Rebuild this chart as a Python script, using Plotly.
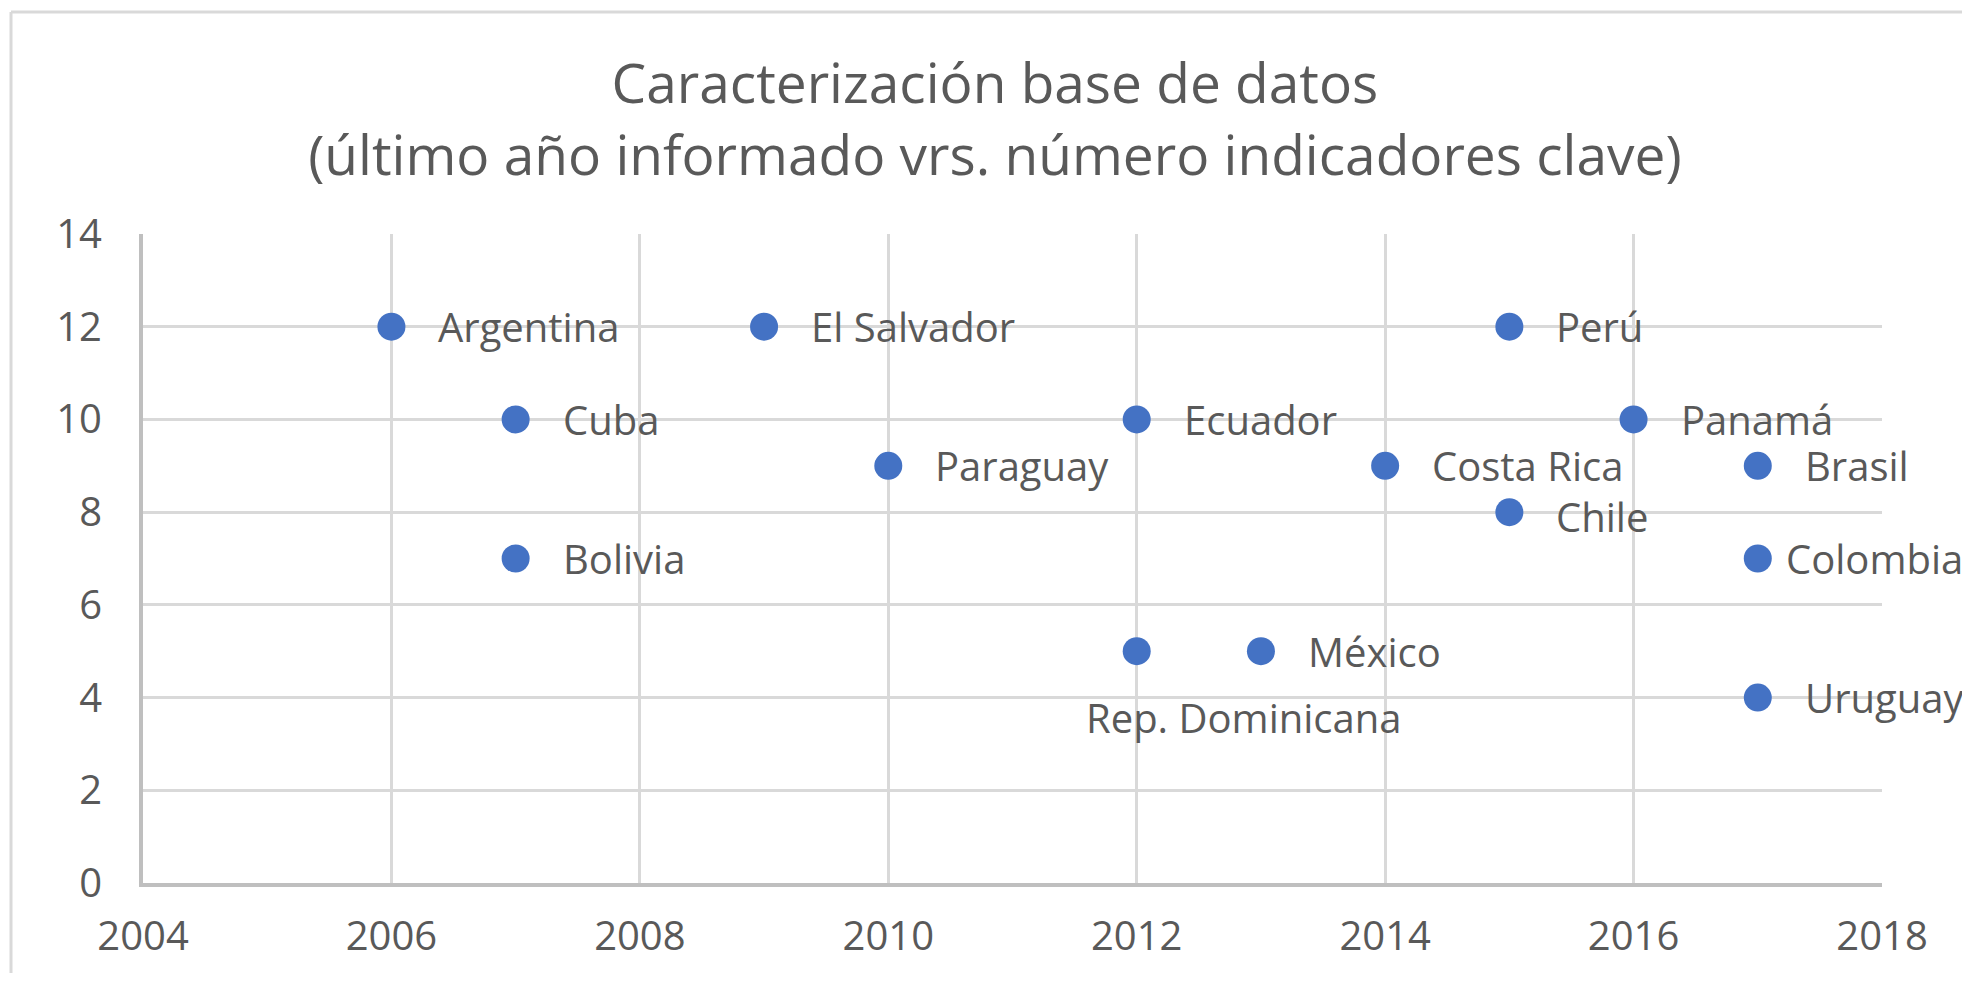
import plotly.graph_objects as go

countries = ["Argentina", "El Salvador", "Perú", "Cuba", "Ecuador", "Panamá",
             "Paraguay", "Costa Rica", "Brasil", "Chile", "Bolivia", "Colombia",
             "Rep. Dominicana", "México", "Uruguay"]
years = [2006, 2009, 2015, 2007, 2012, 2016, 2010, 2014, 2017, 2015, 2007, 2017,
         2012, 2013, 2017]
indicators = [12, 12, 12, 10, 10, 10, 9, 9, 9, 8, 7, 7, 5, 5, 4]

x_ticks = [2004, 2006, 2008, 2010, 2012, 2014, 2016, 2018]
y_ticks = [0, 2, 4, 6, 8, 10, 12, 14]

# page has an 8px body margin; figure sized so the plot lands where the reference has it
W, H = 1962, 965
ML, MR, MT, MB = 135, 88, 226, 90
FONT = "Open Sans"
GRAY = "#595959"
LABEL_SIZE = 40

fig = go.Figure()
fig.add_trace(go.Scatter(
    x=years, y=indicators, mode="markers",
    marker=dict(size=28, color="#4472C4"),
    hoverinfo="text", text=countries, showlegend=False,
))

for c, xv, yv in zip(countries, years, indicators):
    if c == "Rep. Dominicana":
        fig.add_annotation(x=xv, y=yv, text=c, showarrow=False, xanchor="center",
                           yanchor="middle", yshift=-66, xshift=107,
                           font=dict(family=FONT, size=LABEL_SIZE, color=GRAY))
    else:
        fig.add_annotation(x=xv, y=yv, text=c, showarrow=False, xanchor="left",
                           yanchor="middle", xshift=45 if c != "Colombia" else 26,
                           yshift=-4 if c == "Chile" else 0,
                           font=dict(family=FONT, size=LABEL_SIZE, color=GRAY))

pw = W - ML - MR
ph = H - MT - MB
# chart-area border (left and top edges visible)
bx0 = (3 - ML) / pw
by1 = 1 + (MT - 4) / ph
by0 = -(MB + 5) / ph
fig.add_shape(type="line", xref="paper", yref="paper", x0=bx0, x1=bx0, y0=by0, y1=by1,
              line=dict(color="#D9D9D9", width=3))
fig.add_shape(type="line", xref="paper", yref="paper", x0=bx0, x1=1.2, y0=by1, y1=by1,
              line=dict(color="#D9D9D9", width=3))

fig.update_layout(
    width=W, height=H,
    margin=dict(l=ML, r=MR, t=MT, b=MB),
    paper_bgcolor="white", plot_bgcolor="white",
    font=dict(family=FONT, color=GRAY),
    title=dict(
        text="Caracterización base de datos<br>(último año informado vrs. número indicadores clave)",
        x=0.503, xanchor="center", y=1 - 95 / H, yanchor="top",
        font=dict(family=FONT, size=55, color=GRAY),
    ),
    xaxis=dict(
        range=[2004, 2018], tickvals=x_ticks, ticktext=[str(v) for v in x_ticks],
        showgrid=True, gridcolor="#D9D9D9", gridwidth=3,
        showline=True, linecolor="#BFBFBF", linewidth=4, mirror=False,
        zeroline=False, ticks="", ticklabelstandoff=15,
        tickfont=dict(family=FONT, size=40, color=GRAY),
    ),
    yaxis=dict(
        range=[0, 14], tickvals=y_ticks, ticktext=[str(v) for v in y_ticks],
        showgrid=True, gridcolor="#D9D9D9", gridwidth=3,
        showline=True, linecolor="#BFBFBF", linewidth=4,
        zeroline=False, ticks="", ticklabelstandoff=29,
        tickfont=dict(family=FONT, size=40, color=GRAY),
    ),
)

fig.write_html("out.html")
